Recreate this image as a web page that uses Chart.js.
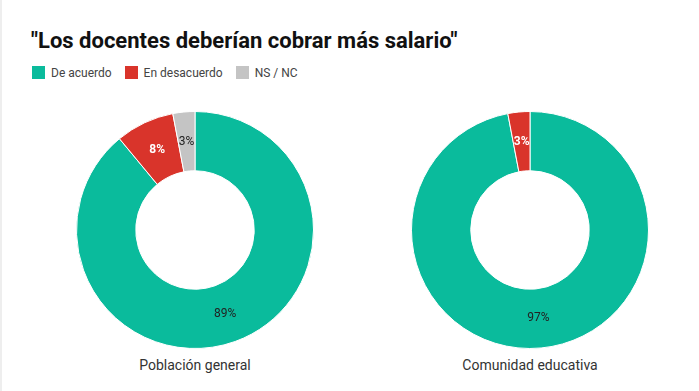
<!DOCTYPE html>
<html>
<head>
<meta charset="utf-8">
<script src="https://cdn.jsdelivr.net/npm/chart.js@4"></script>
<style>
  body { margin: 0; background: #fff; width: 699px; height: 391px; position: relative; overflow: hidden; font-family: Roboto, sans-serif; }
  #edge { position: absolute; left: 0; top: 0; width: 2px; height: 391px; background: #eeeeee; }
  #title { position: absolute; left: 31px; top: 28px; font-size: 22px; font-weight: bold; color: #111; white-space: nowrap; }
  #legend { position: absolute; left: 32px; top: 66px; font-size: 12px; color: #444; white-space: nowrap; }
  .item { display: inline-block; margin-right: 13px; }
  .box { display: inline-block; width: 13px; height: 13px; vertical-align: -2px; margin-right: 6px; }
  .wrap { position: absolute; top: 111px; width: 300px; height: 238px; }
  .name { position: absolute; top: 357px; width: 300px; text-align: center; font-size: 14px; color: #333; }
</style>
</head>
<body>
<div id="edge"></div>
<div id="title"></div>
<div id="legend"></div>
<div class="wrap" style="left:45px"><canvas id="c1"></canvas></div>
<div class="wrap" style="left:380px"><canvas id="c2"></canvas></div>
<div class="name" id="n1" style="left:45px"></div>
<div class="name" id="n2" style="left:380px"></div>
<script>
const title = '"Los docentes deberían cobrar más salario"';
const categories = ['De acuerdo', 'En desacuerdo', 'NS / NC'];
const groups = ['Población general', 'Comunidad educativa'];
const generalValues = [89, 8, 3];
const educativaValues = [97, 3, 0];
const colors = ['#0abb9c', '#d9342b', '#c4c4c4'];
const labelColors = ['#222', '#fff', '#222'];

document.getElementById('title').textContent = title;
const legend = document.getElementById('legend');
categories.forEach(function (c, i) {
    const item = document.createElement('span');
    item.className = 'item';
    item.innerHTML = '<span class="box" style="background:' + colors[i] + '"></span>' + c;
    legend.appendChild(item);
});
document.getElementById('n1').textContent = groups[0];
document.getElementById('n2').textContent = groups[1];

// percentage text in the middle of each slice
const sliceLabels = {
    id: 'sliceLabels',
    afterDatasetsDraw(chart) {
        const ctx = chart.ctx;
        const meta = chart.getDatasetMeta(0);
        const data = chart.data.datasets[0].data;
        ctx.save();
        ctx.textAlign = 'center';
        ctx.textBaseline = 'middle';
        meta.data.forEach(function (arc, i) {
            if (!data[i]) return;
            const pos = arc.tooltipPosition();
            ctx.fillStyle = labelColors[i];
            ctx.font = (i === 1 ? 'bold ' : '') + '12px Roboto';
            ctx.fillText(data[i] + '%', pos.x, pos.y);
        });
        ctx.restore();
    }
};

function make_donut(id, values) {
    new Chart(document.getElementById(id), {
        type: 'doughnut',
        data: {
            labels: categories,
            datasets: [{
                data: values,
                backgroundColor: colors,
                borderColor: '#fff',
                borderWidth: 1
            }]
        },
        options: {
            responsive: true,
            maintainAspectRatio: false,
            animation: false,
            cutout: '50%',
            layout: { padding: 0 },
            plugins: { legend: { display: false }, tooltip: { enabled: false } }
        },
        plugins: [sliceLabels]
    });
}

make_donut('c1', generalValues);
make_donut('c2', educativaValues);
</script>
</body>
</html>
